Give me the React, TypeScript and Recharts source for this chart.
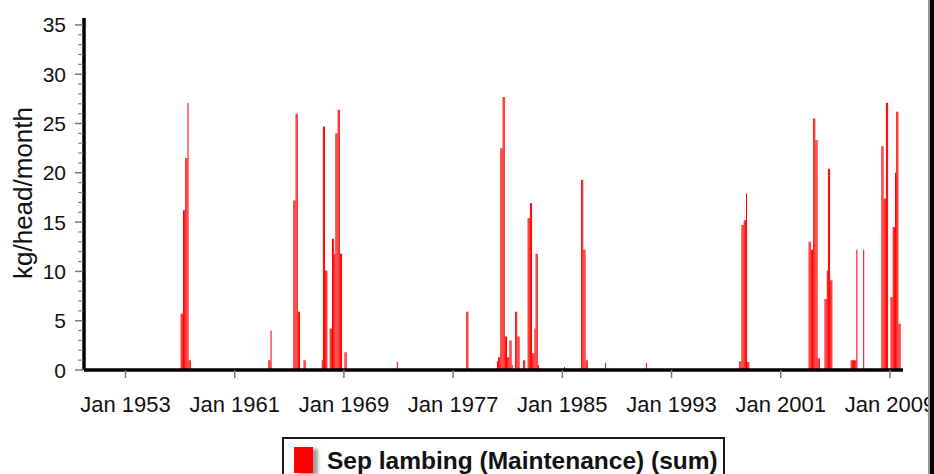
import React from "react";
import { BarChart, Bar, XAxis, YAxis, Legend } from "recharts";

const FONT = "'Liberation Sans', Arial, Helvetica, sans-serif";

const MONTHS = ["Jan", "Feb", "Mar", "Apr", "May", "Jun", "Jul", "Aug", "Sep", "Oct", "Nov", "Dec"];
const FIRST_YEAR = 1950;
const LAST_YEAR = 2009;

const SERIES_NAME = "Sep lambing (Maintenance) (sum)";

// Runs of consecutive non-zero monthly values (all other months are 0)
const runStarts = [
  "Feb 1957", "Jul 1963", "May 1965", "Feb 1966", "Jun 1967", "Dec 1972", "Jan 1978",
  "Apr 1980", "Aug 1981", "Mar 1982", "Jul 1982", "Mar 1985", "Jun 1986", "Mar 1988",
  "Mar 1991", "Jan 1998", "Feb 2003", "Apr 2004", "Mar 2006", "Feb 2007", "Jun 2008",
];
const runValues = [
  [5.7, 5.7, 16.2, 16.2, 21.5, 21.5, 27.1, 1.0, 1.0],
  [1.0, 1.0, 4.0],
  [17.2, 17.2, 26.0, 26.0, 5.9, 5.9],
  [1.0, 1.0],
  [1.0, 24.7, 24.7, 10.1, 10.1, 0, 0, 4.2, 4.2, 13.3, 13.3, 11.8, 24.0, 24.0, 26.4, 26.4, 11.8, 11.8, 0, 0, 1.8, 1.8],
  [0.8],
  [5.9, 5.9],
  [0.9, 1.3, 1.3, 22.5, 22.5, 27.7, 27.7, 3.4, 3.4, 1.3, 1.3, 3.0, 3.0, 0.5],
  [5.9, 5.9, 3.4, 3.4],
  [1.0, 1.0],
  [15.4, 15.4, 16.9, 16.9, 1.7, 1.7, 4.2, 11.8, 11.8, 0.5],
  [0.3],
  [19.3, 19.3, 12.2, 12.2, 1.0, 1.0],
  [0.7],
  [0.7],
  [0.9, 0.9, 14.7, 14.7, 15.2, 15.2, 17.9, 0.8, 0.8],
  [13.0, 13.0, 12.2, 12.2, 25.5, 25.5, 23.3, 23.3, 1.2, 1.2],
  [7.2, 7.2, 10.1, 20.4, 20.4, 9.1, 9.1],
  [1.0, 1.0, 1.0, 1.0, 1.0, 12.2],
  [12.2],
  [22.7, 22.7, 17.4, 17.4, 27.1, 27.1, 0, 0, 7.4, 7.4, 14.5, 14.5, 20.0, 26.2, 26.2, 4.7, 4.7],
];

const xTicks = ["Jan 1953", "Jan 1961", "Jan 1969", "Jan 1977", "Jan 1985", "Jan 1993", "Jan 2001", "Jan 2009"];
const yMajorTicks = [0, 5, 10, 15, 20, 25, 30, 35];
const yAllTicks = [
  0, 1, 2, 3, 4, 5, 6, 7, 8, 9, 10, 11, 12, 13, 14, 15, 16, 17,
  18, 19, 20, 21, 22, 23, 24, 25, 26, 27, 28, 29, 30, 31, 32, 33, 34, 35,
];

// Build the monthly table (categories + values from the runs above)
const monthLabels: string[] = [];
for (let y = FIRST_YEAR; y <= LAST_YEAR; y++) {
  for (const m of MONTHS) monthLabels.push(`${m} ${y}`);
}
const valueByMonth: Record<string, number> = {};
runStarts.forEach((start, i) => {
  const s = monthLabels.indexOf(start);
  runValues[i].forEach((v, k) => {
    valueByMonth[monthLabels[s + k]] = v;
  });
});
const data = monthLabels.map((month) => ({ month, value: valueByMonth[month] ?? 0 }));

const YTick = (props: any) => {
  const { x, y, payload } = props;
  const v = payload.value;
  if (yMajorTicks.includes(v)) {
    return (
      <g>
        <line x1={x - 9} x2={x - 1} y1={y} y2={y} stroke="#7a7a7a" strokeWidth={1.5} />
        <text x={x - 18} y={y} dy="0.36em" textAnchor="end" fontSize={21} fontFamily={FONT} fill="#111">
          {v}
        </text>
      </g>
    );
  }
  return <line x1={x - 6} x2={x - 1} y1={y} y2={y} stroke="#8a8a8a" strokeWidth={1.2} />;
};

const renderLegend = (props: any) => {
  const item = props.payload && props.payload[0];
  return (
    <div
      style={{
        position: "relative",
        width: 443,
        height: 50,
        boxSizing: "border-box",
        border: "2px solid #1a1a1a",
        background: "#fff",
      }}
    >
      <div
        style={{
          position: "absolute",
          left: 10,
          top: 8,
          width: 19,
          height: 26,
          background: "#ff0000",
          boxShadow: "5px 2px 3px #a0a0a0",
        }}
      />
      <span
        style={{
          position: "absolute",
          left: 43,
          top: 10,
          fontFamily: FONT,
          fontWeight: "bold",
          fontSize: 24.5,
          lineHeight: 1,
          color: "#111",
          whiteSpace: "nowrap",
        }}
      >
        {item ? item.value : SERIES_NAME}
      </span>
    </div>
  );
};

export default function App() {
  return (
    <div
      style={{
        position: "absolute",
        left: 0,
        top: 0,
        width: 934,
        height: 474,
        overflow: "hidden",
        background: "#fff",
      }}
    >
      <BarChart
        width={934}
        height={474}
        data={data}
        margin={{ top: 18, right: 31, bottom: 14, left: 0 }}
        barCategoryGap={0}
        barGap={0}
      >
        <XAxis
          dataKey="month"
          ticks={xTicks}
          interval={0}
          height={40}
          axisLine={{ stroke: "#000", strokeWidth: 3.5 }}
          tickLine={{ stroke: "#7a7a7a", strokeWidth: 1.5 }}
          tickSize={8}
          tickMargin={18}
          tick={{ fontSize: 22, fontFamily: FONT, fill: "#111" }}
        />
        <YAxis
          type="number"
          domain={[0, 35.7]}
          ticks={yAllTicks}
          interval={0}
          width={84}
          allowDataOverflow
          axisLine={{ stroke: "#000", strokeWidth: 3.5 }}
          tickLine={false}
          tickSize={0}
          tickMargin={0}
          tick={<YTick />}
          label={() => (
            <text
              x={23}
              y={193}
              transform="rotate(-90, 23, 193)"
              textAnchor="middle"
              dominantBaseline="central"
              fontSize={26}
              fontFamily={FONT}
              fill="#111"
            >
              kg/head/month
            </text>
          )}
        />
        <Legend
          verticalAlign="bottom"
          content={renderLegend}
          wrapperStyle={{ position: "absolute", left: 282, top: 437, width: 443, height: 50 }}
        />
        <Bar dataKey="value" name={SERIES_NAME} fill="#ff0000" barSize={2} isAnimationActive={false} />
      </BarChart>
      <div
        style={{
          position: "absolute",
          left: 928,
          top: 0,
          width: 2,
          height: 474,
          background: "#9a9a9a",
        }}
      />
      <div
        style={{
          position: "absolute",
          left: 930,
          top: 0,
          width: 4,
          height: 474,
          background: "#000",
        }}
      />
    </div>
  );
}
